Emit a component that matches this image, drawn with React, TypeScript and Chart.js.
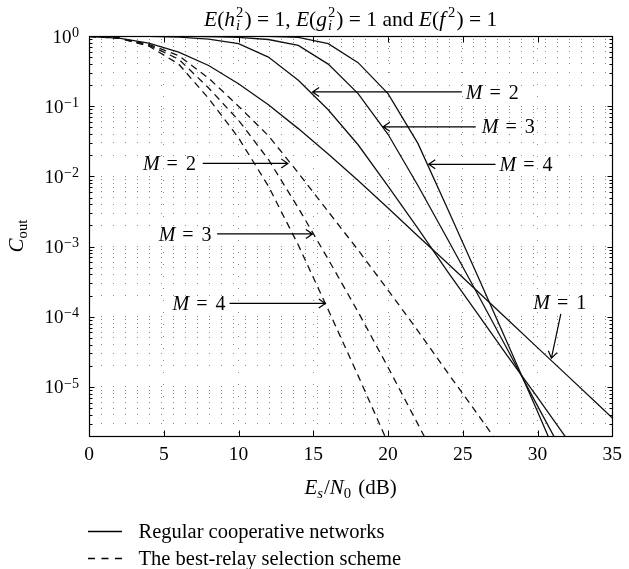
import React, { useEffect, useRef } from 'react';
import { Chart, registerables } from 'chart.js';

Chart.register(...registerables);

const SERIF = '"Liberation Serif", "Times New Roman", Times, serif';

// ---- data ----
const snrDb = [0, 2, 4, 6, 8, 10, 12, 14, 16, 18, 20, 22, 24, 26, 28, 30, 32, 34, 36];

// Regular cooperative networks (solid)
const regularM1 = [0.977, 0.933, 0.794, 0.589, 0.38, 0.209, 0.105, 0.0479, 0.0209, 8.71e-3, 3.55e-3, 1.41e-3, 5.75e-4, 2.29e-4, 9.12e-5, 3.63e-5, 1.45e-5, 5.75e-6, 2.29e-6];
const regularM2 = [0.998, 0.995, 0.989, 0.966, 0.902, 0.78, 0.501, 0.234, 0.0891, 0.0282, 7.24e-3, 1.82e-3, 4.37e-4, 1.1e-4, 2.75e-5, 7.08e-6, 1.78e-6, 4.47e-7, 1.12e-7];
const regularM3 = [0.9999, 0.9995, 0.998, 0.993, 0.982, 0.955, 0.891, 0.733, 0.398, 0.151, 0.0398, 7.41e-3, 1.26e-3, 2.09e-4, 3.39e-5, 5.37e-6, 8.71e-7, 1.41e-7, 2.3e-8];
const regularM4 = [1.0, 0.9999, 0.9998, 0.9995, 0.998, 0.995, 0.989, 0.955, 0.776, 0.417, 0.151, 0.0295, 3.39e-3, 3.8e-4, 4.17e-5, 4.47e-6, 4.57e-7, 4.68e-8, 4.8e-9];

// The best-relay selection scheme (dashed)
const bestRelayM2 = [0.989, 0.935, 0.76, 0.525, 0.251, 0.1, 0.038, 0.0112, 3.16e-3, 8.91e-4, 2.4e-4, 6.31e-5, 1.58e-5, 4.07e-6, 1.02e-6];
const bestRelayM3 = [0.989, 0.933, 0.741, 0.468, 0.182, 0.0631, 0.0174, 3.55e-3, 6.61e-4, 1.17e-4, 1.91e-5, 2.95e-6, 4.47e-7];
const bestRelayM4 = [0.988, 0.93, 0.72, 0.398, 0.129, 0.0355, 7.24e-3, 1.05e-3, 1.26e-4, 1.45e-5, 1.58e-6, 1.7e-7];

// axes
const xTicks = [0, 5, 10, 15, 20, 25, 30, 35];
const xMin = 0;
const xMax = 35;
const yMin = 2e-6;
const yMax = 1;
const yDecades = [-6, -5, -4, -3, -2, -1, 0];
const ySignificands = [1, 2, 3, 4, 5, 6, 7, 8, 9];

// texts
const legendLabels = ['Regular cooperative networks', 'The best-relay selection scheme'];

// annotations (data coordinates)
const solidLabels = [
  { m: '2', tipX: 14.95, tailX: 24.94, y: 0.1596, labelX: 25.2 },
  { m: '3', tipX: 19.68, tailX: 25.87, y: 0.0508, labelX: 26.27 },
  { m: '4', tipX: 22.72, tailX: 27.19, y: 0.01486, labelX: 27.46 },
];
const dashedLabels = [
  { m: '2', tipX: 13.3, tailX: 7.61, y: 0.01531, labelX: 7.15 },
  { m: '3', tipX: 14.95, tailX: 8.57, y: 1.514e-3, labelX: 8.2 },
  { m: '4', tipX: 15.81, tailX: 9.4, y: 1.549e-4, labelX: 9.13 },
];
const singleRelayLabel = { m: '1', labelX: 31.49, labelY: 1.62e-4, tailX: 31.56, tailY: 1.1e-4, tipX: 30.93, tipY: 2.57e-5 };

const yTickValues: number[] = [];
for (const d of yDecades) {
  for (const s of ySignificands) {
    const v = Number((s * Math.pow(10, d)).toPrecision(6));
    if (v >= yMin * 0.999 && v <= yMax * 1.001) yTickValues.push(v);
  }
}
const isMajor = (v: number) => Math.abs(Math.log10(v) - Math.round(Math.log10(v))) < 1e-6;

type Seg = { t: string; it?: boolean; s?: number; dy?: number; back?: boolean; pad?: number };

function drawRich(ctx: CanvasRenderingContext2D, segs: Seg[], x: number, baseline: number, align: string, size: number) {
  const fontOf = (s: Seg) => `${s.it ? 'italic ' : ''}${Math.round(size * (s.s || 1) * 10) / 10}px ${SERIF}`;
  let total = 0;
  const widths = segs.map((s) => {
    ctx.font = fontOf(s);
    const w = ctx.measureText(s.t).width;
    total += (s.pad || 0) + (s.back ? 0 : w);
    return w;
  });
  let cx = align === 'center' ? x - total / 2 : align === 'right' ? x - total : x;
  ctx.textAlign = 'left';
  ctx.textBaseline = 'alphabetic';
  segs.forEach((s, i) => {
    cx += s.pad || 0;
    ctx.font = fontOf(s);
    ctx.fillText(s.t, cx, baseline + (s.dy || 0));
    if (!s.back) cx += widths[i];
  });
  return total;
}

function drawArrow(ctx: CanvasRenderingContext2D, x1: number, y1: number, x2: number, y2: number) {
  ctx.beginPath();
  ctx.moveTo(x1, y1);
  ctx.lineTo(x2, y2);
  const ang = Math.atan2(y2 - y1, x2 - x1);
  const len = 8;
  const spread = 0.6;
  ctx.moveTo(x2 - len * Math.cos(ang - spread), y2 - len * Math.sin(ang - spread));
  ctx.lineTo(x2, y2);
  ctx.lineTo(x2 - len * Math.cos(ang + spread), y2 - len * Math.sin(ang + spread));
  ctx.stroke();
}

function mLabel(n: string): Seg[] {
  return [{ t: 'M', it: true }, { t: '=', pad: 7 }, { t: n, pad: 8 }];
}

const decorPlugin = {
  id: 'decor',
  afterDraw(chart: any) {
    const { ctx, chartArea: a, scales } = chart;
    const x = scales.x;
    const y = scales.y;
    const crisp = (v: number) => Math.round(v) + 0.5;
    ctx.save();
    ctx.strokeStyle = '#000';
    ctx.fillStyle = '#000';
    ctx.setLineDash([]);
    ctx.lineWidth = 1;

    const L = crisp(a.left), R = crisp(a.right), T = crisp(a.top), B = crisp(a.bottom);
    // inward tick marks
    ctx.beginPath();
    yTickValues.forEach((v) => {
      const py = crisp(y.getPixelForValue(v));
      const len = isMajor(v) ? 5 : 3;
      ctx.moveTo(L, py); ctx.lineTo(L + len, py);
      ctx.moveTo(R, py); ctx.lineTo(R - len, py);
    });
    xTicks.forEach((v) => {
      const px = crisp(x.getPixelForValue(v));
      ctx.moveTo(px, B); ctx.lineTo(px, B - 6);
      ctx.moveTo(px, T); ctx.lineTo(px, T + 6);
    });
    ctx.stroke();
    // box
    ctx.lineWidth = 1.2;
    ctx.strokeRect(L, T, R - L, B - T);

    // y tick labels 10^k
    yTickValues.filter(isMajor).forEach((v) => {
      const py = y.getPixelForValue(v);
      const e = Math.round(Math.log10(v));
      drawRich(ctx, [{ t: '10' }, { t: e === 0 ? '0' : '\u2212' + Math.abs(e), s: 0.74, dy: -5.8, pad: 0.5 }], a.left - 10, py + 6.5, 'right', 19);
    });

    const cxPlot = (a.left + a.right) / 2;
    // title
    const sub = 0.68;
    drawRich(ctx, [
      { t: 'E', it: true }, { t: '(' }, { t: 'h', it: true },
      { t: 'i', it: true, s: sub, dy: 4, back: true, pad: 1 }, { t: '2', s: sub, dy: -9 }, { t: ')', pad: 1 },
      { t: ' = 1, ' },
      { t: 'E', it: true }, { t: '(' }, { t: 'g', it: true },
      { t: 'i', it: true, s: sub, dy: 4, back: true, pad: 1 }, { t: '2', s: sub, dy: -9 }, { t: ')', pad: 1 },
      { t: ' = 1 and ' },
      { t: 'E', it: true }, { t: '(' }, { t: 'f', it: true }, { t: '2', s: sub, dy: -9, pad: 3 }, { t: ')', pad: 1 },
      { t: ' = 1' },
    ], cxPlot, 26, 'center', 21.5);

    // x title
    drawRich(ctx, [
      { t: 'E', it: true }, { t: 's', it: true, s: 0.7, dy: 4 }, { t: '/', pad: 1 }, { t: 'N', it: true }, { t: '0', s: 0.7, dy: 4 }, { t: ' (dB)', pad: 2 },
    ], cxPlot, 494, 'center', 21);

    // y title (rotated)
    ctx.save();
    ctx.translate(23, (a.top + a.bottom) / 2);
    ctx.rotate(-Math.PI / 2);
    drawRich(ctx, [{ t: 'C', it: true }, { t: 'out', s: 0.7, dy: 4 }], 0, 0, 'center', 21);
    ctx.restore();

    // annotations
    ctx.lineWidth = 1.2;
    solidLabels.forEach((l) => {
      const py = y.getPixelForValue(l.y);
      drawArrow(ctx, x.getPixelForValue(l.tailX), py, x.getPixelForValue(l.tipX), py);
      drawRich(ctx, mLabel(l.m), x.getPixelForValue(l.labelX), py + 6.6, 'left', 20);
    });
    dashedLabels.forEach((l) => {
      const py = y.getPixelForValue(l.y);
      drawArrow(ctx, x.getPixelForValue(l.tailX), py, x.getPixelForValue(l.tipX), py);
      drawRich(ctx, mLabel(l.m), x.getPixelForValue(l.labelX), py + 6.6, 'right', 20);
    });
    {
      const l = singleRelayLabel;
      drawArrow(ctx, x.getPixelForValue(l.tailX), y.getPixelForValue(l.tailY), x.getPixelForValue(l.tipX), y.getPixelForValue(l.tipY));
      drawRich(ctx, mLabel(l.m), x.getPixelForValue(l.labelX), y.getPixelForValue(l.labelY) + 6.6, 'center', 20);
    }

    // legend
    const lx0 = 88, lx1 = 122, tx = 138.6;
    ctx.lineWidth = 1.3;
    ctx.beginPath();
    ctx.moveTo(lx0, 531.5); ctx.lineTo(lx1, 531.5);
    ctx.stroke();
    ctx.setLineDash([7, 6.5]);
    ctx.beginPath();
    ctx.moveTo(lx0, 558.5); ctx.lineTo(lx1, 558.5);
    ctx.stroke();
    ctx.setLineDash([]);
    drawRich(ctx, [{ t: legendLabels[0] }], tx, 538, 'left', 20.5);
    drawRich(ctx, [{ t: legendLabels[1] }], tx, 564.5, 'left', 20.5);

    ctx.restore();
  },
};

export default function App() {
  const ref = useRef<HTMLCanvasElement>(null);
  useEffect(() => {
    const canvas = ref.current;
    if (!canvas) return;
    const mk = (arr: number[]) => arr.map((v, i) => ({ x: snrDb[i], y: v }));
    const solid = { borderColor: '#111', borderWidth: 1.3, pointRadius: 0, fill: false, tension: 0 };
    const dashed = { ...solid, borderDash: [7, 5] };
    const gridStyle = { color: '#8a8a8a', lineWidth: 1, drawTicks: false };
    const chart = new Chart(canvas, {
      type: 'line',
      data: {
        datasets: [
          { label: 'Regular, M = 1', data: mk(regularM1), ...solid },
          { label: 'Regular, M = 2', data: mk(regularM2), ...solid },
          { label: 'Regular, M = 3', data: mk(regularM3), ...solid },
          { label: 'Regular, M = 4', data: mk(regularM4), ...solid },
          { label: 'Best-relay, M = 2', data: mk(bestRelayM2), ...dashed },
          { label: 'Best-relay, M = 3', data: mk(bestRelayM3), ...dashed },
          { label: 'Best-relay, M = 4', data: mk(bestRelayM4), ...dashed },
        ],
      },
      options: {
        animation: false,
        responsive: true,
        maintainAspectRatio: false,
        layout: { padding: { left: 0, right: 11, top: 36, bottom: 0 } },
        plugins: { legend: { display: false }, title: { display: false }, tooltip: { enabled: false } },
        scales: {
          x: {
            type: 'linear',
            min: xMin,
            max: xMax,
            afterBuildTicks: (s: any) => { s.ticks = xTicks.map((v) => ({ value: v })); },
            afterFit: (s: any) => { s.height = 133; },
            ticks: { font: { family: SERIF, size: 19.5 }, color: '#000', padding: 7, maxRotation: 0, autoSkip: false },
            grid: gridStyle,
            border: { display: false, dash: [1, 11] },
          },
          y: {
            type: 'logarithmic',
            min: yMin,
            max: yMax,
            afterBuildTicks: (s: any) => { s.ticks = yTickValues.map((v) => ({ value: v, major: isMajor(v) })); },
            afterFit: (s: any) => { s.width = 89; },
            ticks: { display: false, autoSkip: false },
            grid: gridStyle,
            border: { display: false, dash: [1, 11] },
          },
        },
      },
      plugins: [decorPlugin],
    } as any);
    return () => chart.destroy();
  }, []);
  return (
    <div style={{ position: 'fixed', left: 0, top: 0, width: 629, height: 569, background: '#fff' }}>
      <canvas ref={ref} />
    </div>
  );
}
